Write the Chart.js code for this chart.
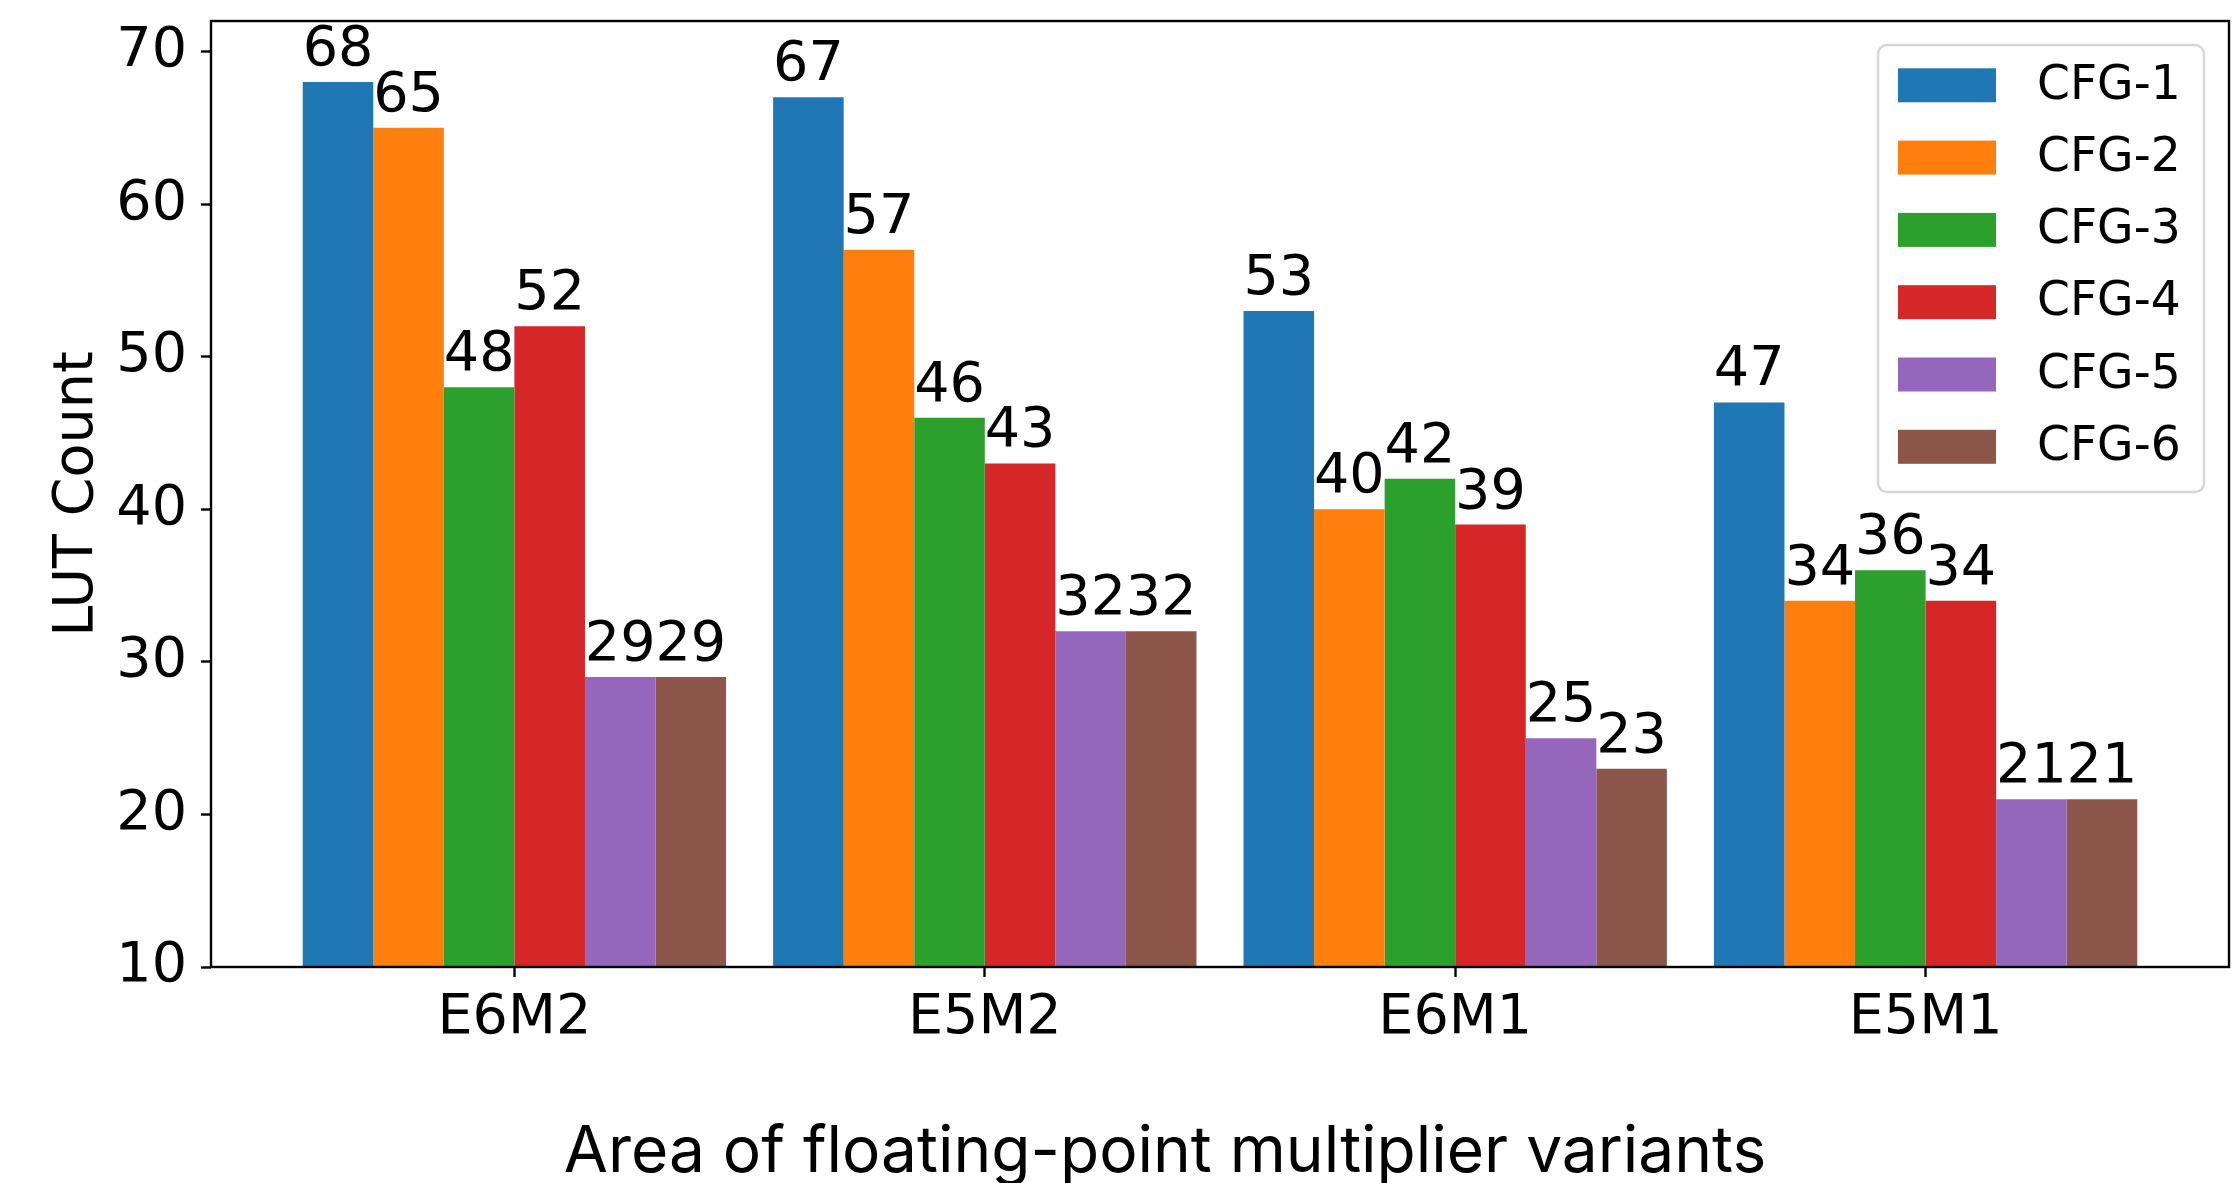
<!DOCTYPE html>
<html>
<head>
<meta charset="utf-8">
<script src="https://cdn.jsdelivr.net/npm/chart.js@4.4.1/dist/chart.umd.min.js"></script>
<style>
html,body{margin:0;padding:0;background:#fff;}
#wrap{width:2240px;height:1183px;}
</style>
</head>
<body>
<div id="wrap"><canvas id="c" width="2240" height="1183"></canvas></div>
<script>
const categories = ['E6M2', 'E5M2', 'E6M1', 'E5M1'];
const seriesNames = ['CFG-1', 'CFG-2', 'CFG-3', 'CFG-4', 'CFG-5', 'CFG-6'];
const cfg1 = [68, 67, 53, 47];
const cfg2 = [65, 57, 40, 34];
const cfg3 = [48, 46, 42, 36];
const cfg4 = [52, 43, 39, 34];
const cfg5 = [29, 32, 25, 21];
const cfg6 = [29, 32, 23, 21];
const yTicks = [10, 20, 30, 40, 50, 60, 70];
const xTitle = 'Area of floating-point multiplier variants';
const yTitle = 'LUT Count';
const seriesValues = [cfg1, cfg2, cfg3, cfg4, cfg5, cfg6];
const colors = ['#1f77b4', '#ff7f0e', '#2ca02c', '#d62728', '#9467bd', '#8c564b'];

const FONT = 'DejaVu Sans';
const TICK_SIZE = 55.6;

const datasets = seriesNames.map((name, s) => ({
  label: name,
  data: seriesValues[s].map((v, i) => ({x: i, y: v})),
  backgroundColor: colors[s],
  borderWidth: 0,
  categoryPercentage: 0.9,
  barPercentage: 1.0
}));

const framePlugin = {
  id: 'frame',
  afterDatasetsDraw(chart) {
    const {ctx, chartArea: a} = chart;
    ctx.save();
    ctx.strokeStyle = '#000';
    ctx.lineWidth = 2.4;
    ctx.strokeRect(a.left, a.top, a.right - a.left, a.bottom - a.top);
    ctx.restore();
  }
};

const valueLabelPlugin = {
  id: 'valueLabels',
  afterDatasetsDraw(chart) {
    const {ctx} = chart;
    ctx.save();
    ctx.font = TICK_SIZE + 'px "' + FONT + '"';
    ctx.fillStyle = '#000';
    ctx.textAlign = 'center';
    ctx.textBaseline = 'alphabetic';
    chart.data.datasets.forEach((ds, di) => {
      const meta = chart.getDatasetMeta(di);
      meta.data.forEach((bar, i) => {
        ctx.fillText(String(ds.data[i].y), bar.x, bar.y - 17);
      });
    });
    ctx.restore();
  }
};

const titlesPlugin = {
  id: 'axisTitles',
  afterDraw(chart) {
    const {ctx, chartArea: a} = chart;
    ctx.save();
    ctx.fillStyle = '#000';
    ctx.textAlign = 'center';
    ctx.textBaseline = 'alphabetic';
    // x-axis title
    ctx.font = '64px "Inter"';
    ctx.fillText(xTitle, 1165, 1172);
    // y-axis title
    ctx.font = TICK_SIZE + 'px "' + FONT + '"';
    ctx.translate(92, (a.top + a.bottom) / 2);
    ctx.rotate(-Math.PI / 2);
    ctx.fillText(yTitle, 0, 0);
    ctx.restore();
  }
};

const legendPlugin = {
  id: 'customLegend',
  afterDraw(chart) {
    const {ctx, chartArea: a} = chart;
    const boxW = 326, boxH = 447;
    const bx = a.right - 25 - boxW, by = a.top + 24;
    ctx.save();
    ctx.fillStyle = 'rgba(255,255,255,0.8)';
    ctx.strokeStyle = '#d6d6d6';
    ctx.lineWidth = 2.4;
    ctx.beginPath();
    ctx.roundRect(bx, by, boxW, boxH, 9);
    ctx.fill();
    ctx.stroke();
    ctx.font = '47.2px "' + FONT + '"';
    ctx.textAlign = 'left';
    ctx.textBaseline = 'middle';
    chart.data.datasets.forEach((ds, i) => {
      const cy = by + 40.3 + i * 72.3;
      ctx.fillStyle = ds.backgroundColor;
      ctx.fillRect(bx + 20, cy - 17, 98, 34);
      ctx.fillStyle = '#000';
      ctx.fillText(ds.label, bx + 159, cy + 1);
    });
    ctx.restore();
  }
};

new Chart(document.getElementById('c'), {
  type: 'bar',
  data: {datasets},
  options: {
    responsive: false,
    animation: false,
    devicePixelRatio: 1,
    layout: {padding: {top: 21, right: 11, left: 0, bottom: 0}},
    plugins: {legend: {display: false}, tooltip: {enabled: false}},
    scales: {
      x: {
        type: 'linear',
        min: -0.645,
        max: 3.645,
        offset: false,
        afterBuildTicks(scale) { scale.ticks = categories.map((c, i) => ({value: i})); },
        afterFit(scale) { scale.height = 216; scale.paddingLeft = 0; scale.paddingRight = 0; },
        ticks: {
          autoSkip: false, maxRotation: 0, minRotation: 0,
          padding: 8,
          color: '#000',
          font: {family: FONT, size: TICK_SIZE},
          callback: (v) => categories[v]
        },
        grid: {display: true, offset: false, drawOnChartArea: false, drawTicks: true, tickLength: 10, tickWidth: 2.4, tickColor: '#000'},
        border: {display: false},
        title: {display: false}
      },
      y: {
        type: 'linear',
        min: 10,
        max: 72,
        afterBuildTicks(scale) { scale.ticks = yTicks.map(v => ({value: v})); },
        afterFit(scale) { scale.width = 211; scale.paddingTop = 0; scale.paddingBottom = 0; },
        ticks: {
          padding: 14,
          color: '#000',
          font: {family: FONT, size: TICK_SIZE}
        },
        grid: {display: true, offset: false, drawOnChartArea: false, drawTicks: true, tickLength: 10, tickWidth: 2.4, tickColor: '#000'},
        border: {display: false},
        title: {display: false}
      }
    }
  },
  plugins: [framePlugin, valueLabelPlugin, titlesPlugin, legendPlugin]
});
</script>
</body>
</html>
